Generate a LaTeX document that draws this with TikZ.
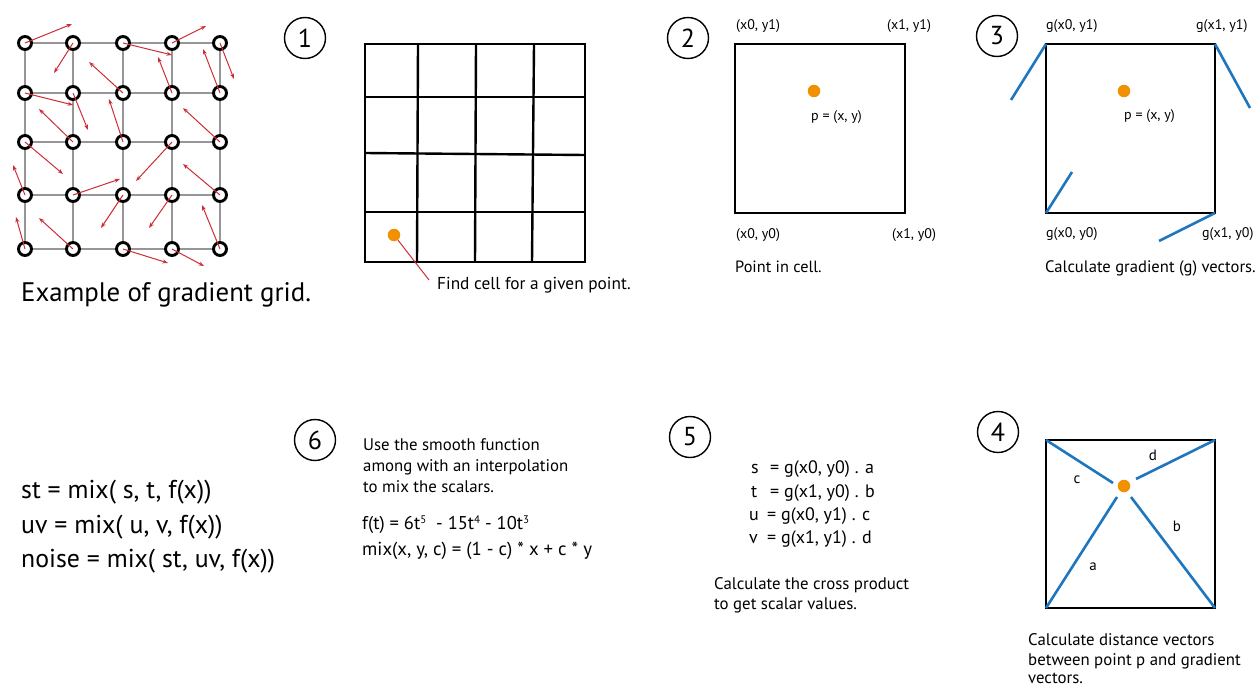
\documentclass[tikz,border=0pt]{standalone}
\usepackage{fontspec}
\setmainfont{PT Sans}
\usetikzlibrary{arrows.meta}
\definecolor{gred}{RGB}{205,45,55}
\definecolor{dotor}{RGB}{242,145,0}
\definecolor{vblue}{RGB}{30,118,190}
\definecolor{ggray}{RGB}{150,150,150}
\newcommand{\sups}[1]{\raisebox{0.55ex}{\fontsize{11}{11}\selectfont #1}}
\begin{document}
\begin{tikzpicture}[x=1pt,y=-1pt,
  numc/.style={circle,draw,line width=1.4pt,minimum size=41pt,inner sep=0pt,font=\fontsize{26}{26}\selectfont},
  gcirc/.style={circle,draw,line width=2.9pt,minimum size=13pt,inner sep=0pt,fill=white},
  garr/.style={draw=gred,line width=1pt,-{Stealth[length=5.5pt,width=4pt]}},
  gline/.style={draw=ggray,line width=1.5pt},
  cellbox/.style={draw,line width=2.4pt},
  dot/.style={circle,fill=dotor,minimum size=12.5pt,inner sep=0pt},
  vec/.style={draw=vblue,line width=2.6pt},
  lab/.style={anchor=base west,inner sep=0pt,font=\fontsize{14}{16}\selectfont},
  captxt/.style={anchor=base west,inner sep=0pt,font=\fontsize{16.8}{21}\selectfont},
  eq/.style={anchor=base west,inner sep=0pt,font=\fontsize{18}{20}\selectfont},
  big/.style={anchor=base west,inner sep=0pt,font=\fontsize{25.8}{30}\selectfont},
  vlab/.style={inner sep=0pt,font=\fontsize{15}{15}\selectfont}
]
\useasboundingbox (0,0) rectangle (1255,688);
\clip (0,0) rectangle (1255,688);

% ---------- gradient grid ----------
\foreach \y in {43,93,142,195,249} \draw[gline] (25,\y) -- (220,\y);
\foreach \x in {25,73,123,172,220} \draw[gline] (\x,43) -- (\x,249);
\foreach \x [count=\c from 0] in {25,73,123,172,220}
  \foreach \y [count=\r from 0] in {43,93,142,195,249}
    \node[gcirc] (g\c\r) at (\x,\y) {};
\foreach \c/\r/\tx/\ty in {0/0/72/24,1/0/54/73,2/0/172/55,3/0/206/26,4/0/234/79,
  0/1/73/105,1/1/88/130,2/1/89/62,3/1/158/57,4/1/203/49,
  0/2/63/174,1/2/39/109,2/2/109/99,3/2/136/181,4/2/183/108,
  0/3/13/165,1/3/120/179,2/3/101/228,3/3/149/228,4/3/183/164,
  0/4/16/217,1/4/39/218,2/4/168/263,3/4/204/266,4/4/202/205}
{
  \coordinate (t\c\r) at (\tx,\ty);
  \draw[garr] (g\c\r.center) -- (t\c\r);
}
\node[big,font=\fontsize{26.8}{30}\selectfont] (title) at (21,301) {Example of gradient grid.};

% ---------- panel 1 ----------
\node[numc] (n1) at (305,38) {1};
\draw[cellbox] (365,44) rectangle (585,262);
\draw[cellbox] (418,44) -- (417,262);
\draw[cellbox] (476,44) -- (475,262);
\draw[cellbox] (534,44) -- (532,262);
\draw[cellbox] (365,97) -- (585,97);
\draw[cellbox] (365,153) -- (585,155);
\draw[cellbox] (365,212) -- (585,212);
\node[dot] (p1) at (394,235) {};
\coordinate (p1end) at (429,280);
\draw[gred,line width=1pt] (p1) -- (p1end);
\node[captxt,font=\fontsize{17.3}{21}\selectfont] (c1) at (437,289) {Find cell for a given point.};

% ---------- panel 2 ----------
\node[numc] (n2) at (688,38) {2};
\draw[cellbox] (735,44) rectangle (905,213);
\node[dot] (p2) at (814,91) {};
\node[lab] (p2l) at (811,120) {p = (x, y)};
\node[lab] (l2a) at (736,29) {(x0, y1)};
\node[lab] (l2b) at (887,29) {(x1, y1)};
\node[lab] (l2c) at (736,238) {(x0, y0)};
\node[lab] (l2d) at (892,238) {(x1, y0)};
\node[captxt,font=\fontsize{16.3}{18}\selectfont] (c2) at (735,272) {Point in cell.};

% ---------- panel 3 ----------
\node[numc] (n3) at (997,36) {3};
\coordinate (q3tl) at (1046,44);
\coordinate (q3tr) at (1215,44);
\coordinate (q3bl) at (1046,213);
\coordinate (q3br) at (1215,213);
\draw[cellbox] (q3tl) rectangle (q3br);
\coordinate (v3tl) at (1011,100);
\coordinate (v3tr) at (1250,108);
\coordinate (v3bl) at (1072,172);
\coordinate (v3br) at (1159,241);
\draw[vec] (q3tl) -- (v3tl);
\draw[vec] (q3tr) -- (v3tr);
\draw[vec] (q3bl) -- (v3bl);
\draw[vec] (q3br) -- (v3br);
\node[dot] (p3) at (1124,91) {};
\node[lab] (p3l) at (1124,119) {p = (x, y)};
\node[lab] (l3a) at (1046,29) {g(x0, y1)};
\node[lab] (l3b) at (1196,29) {g(x1, y1)};
\node[lab] (l3c) at (1046,237) {g(x0, y0)};
\node[lab] (l3d) at (1202,237) {g(x1, y0)};
\node[captxt,font=\fontsize{16.6}{18}\selectfont] (c3) at (1045,272) {Calculate gradient (g) vectors.};

% ---------- panel 4 ----------
\node[numc] (n4) at (998,432) {4};
\coordinate (q4tl) at (1046,440);
\coordinate (q4tr) at (1215,440);
\coordinate (q4bl) at (1046,608);
\coordinate (q4br) at (1215,608);
\draw[cellbox] (q4tl) rectangle (q4br);
\node[dot] (p4) at (1124,486) {};
\coordinate (e4c) at (1113,483);
\coordinate (e4d) at (1136,479);
\coordinate (e4a) at (1117,497);
\coordinate (e4b) at (1131,497);
\draw[vec] (q4tl) -- (e4c);
\draw[vec] (q4tr) -- (e4d);
\draw[vec] (q4bl) -- (e4a);
\draw[vec] (q4br) -- (e4b);
\node[vlab] (ld) at (1153,455) {d};
\node[vlab] (lc) at (1077,480) {c};
\node[vlab] (lb) at (1177,526) {b};
\node[vlab] (la) at (1093,567) {a};
\node[captxt] (c4a) at (1028,645) {Calculate distance vectors};
\node[captxt] (c4b) at (1028,665) {between point p and gradient};
\node[captxt] (c4c) at (1028,683.5) {vectors.};

% ---------- panel 5 ----------
\node[numc] (n5) at (690,437) {5};
\node[eq] (s5) at (751,473) {s};
\node[eq] (s5r) at (770,473) {= g(x0, y0) . a};
\node[eq] (t5) at (751,497) {t};
\node[eq] (t5r) at (770,497) {= g(x1, y0) . b};
\node[eq] (u5) at (749,520) {u};
\node[eq] (u5r) at (767,520) {= g(x0, y1) . c};
\node[eq] (v5) at (749,543) {v};
\node[eq] (v5r) at (767,543) {= g(x1, y1) . d};
\node[captxt] (c5a) at (714,589) {Calculate the cross product};
\node[captxt] (c5b) at (714,609) {to get scalar values.};

% ---------- panel 6 ----------
\node[numc] (n6) at (315,440) {6};
\node[captxt] (c6a) at (363,450) {Use the smooth function};
\node[captxt] (c6b) at (363,471) {among with an interpolation};
\node[captxt] (c6c) at (363,492) {to mix the scalars.};
\node[eq,font=\fontsize{18.5}{20}\selectfont] (f6) at (362,529) {f(t) = 6t\sups{5}\ \ - 15t\sups{4} - 10t\sups{3}};
\node[eq,font=\fontsize{18.8}{20}\selectfont] (m6) at (362,555) {mix(x, y, c) = (1 - c) * x + c * y};

% ---------- left formulas ----------
\node[big] (st) at (21,498) {st = mix( s, t, f(x))};
\node[big] (uv) at (21,533) {uv = mix( u, v, f(x))};
\node[big] (nz) at (21,567) {noise = mix( st, uv, f(x))};
\end{tikzpicture}
\end{document}
